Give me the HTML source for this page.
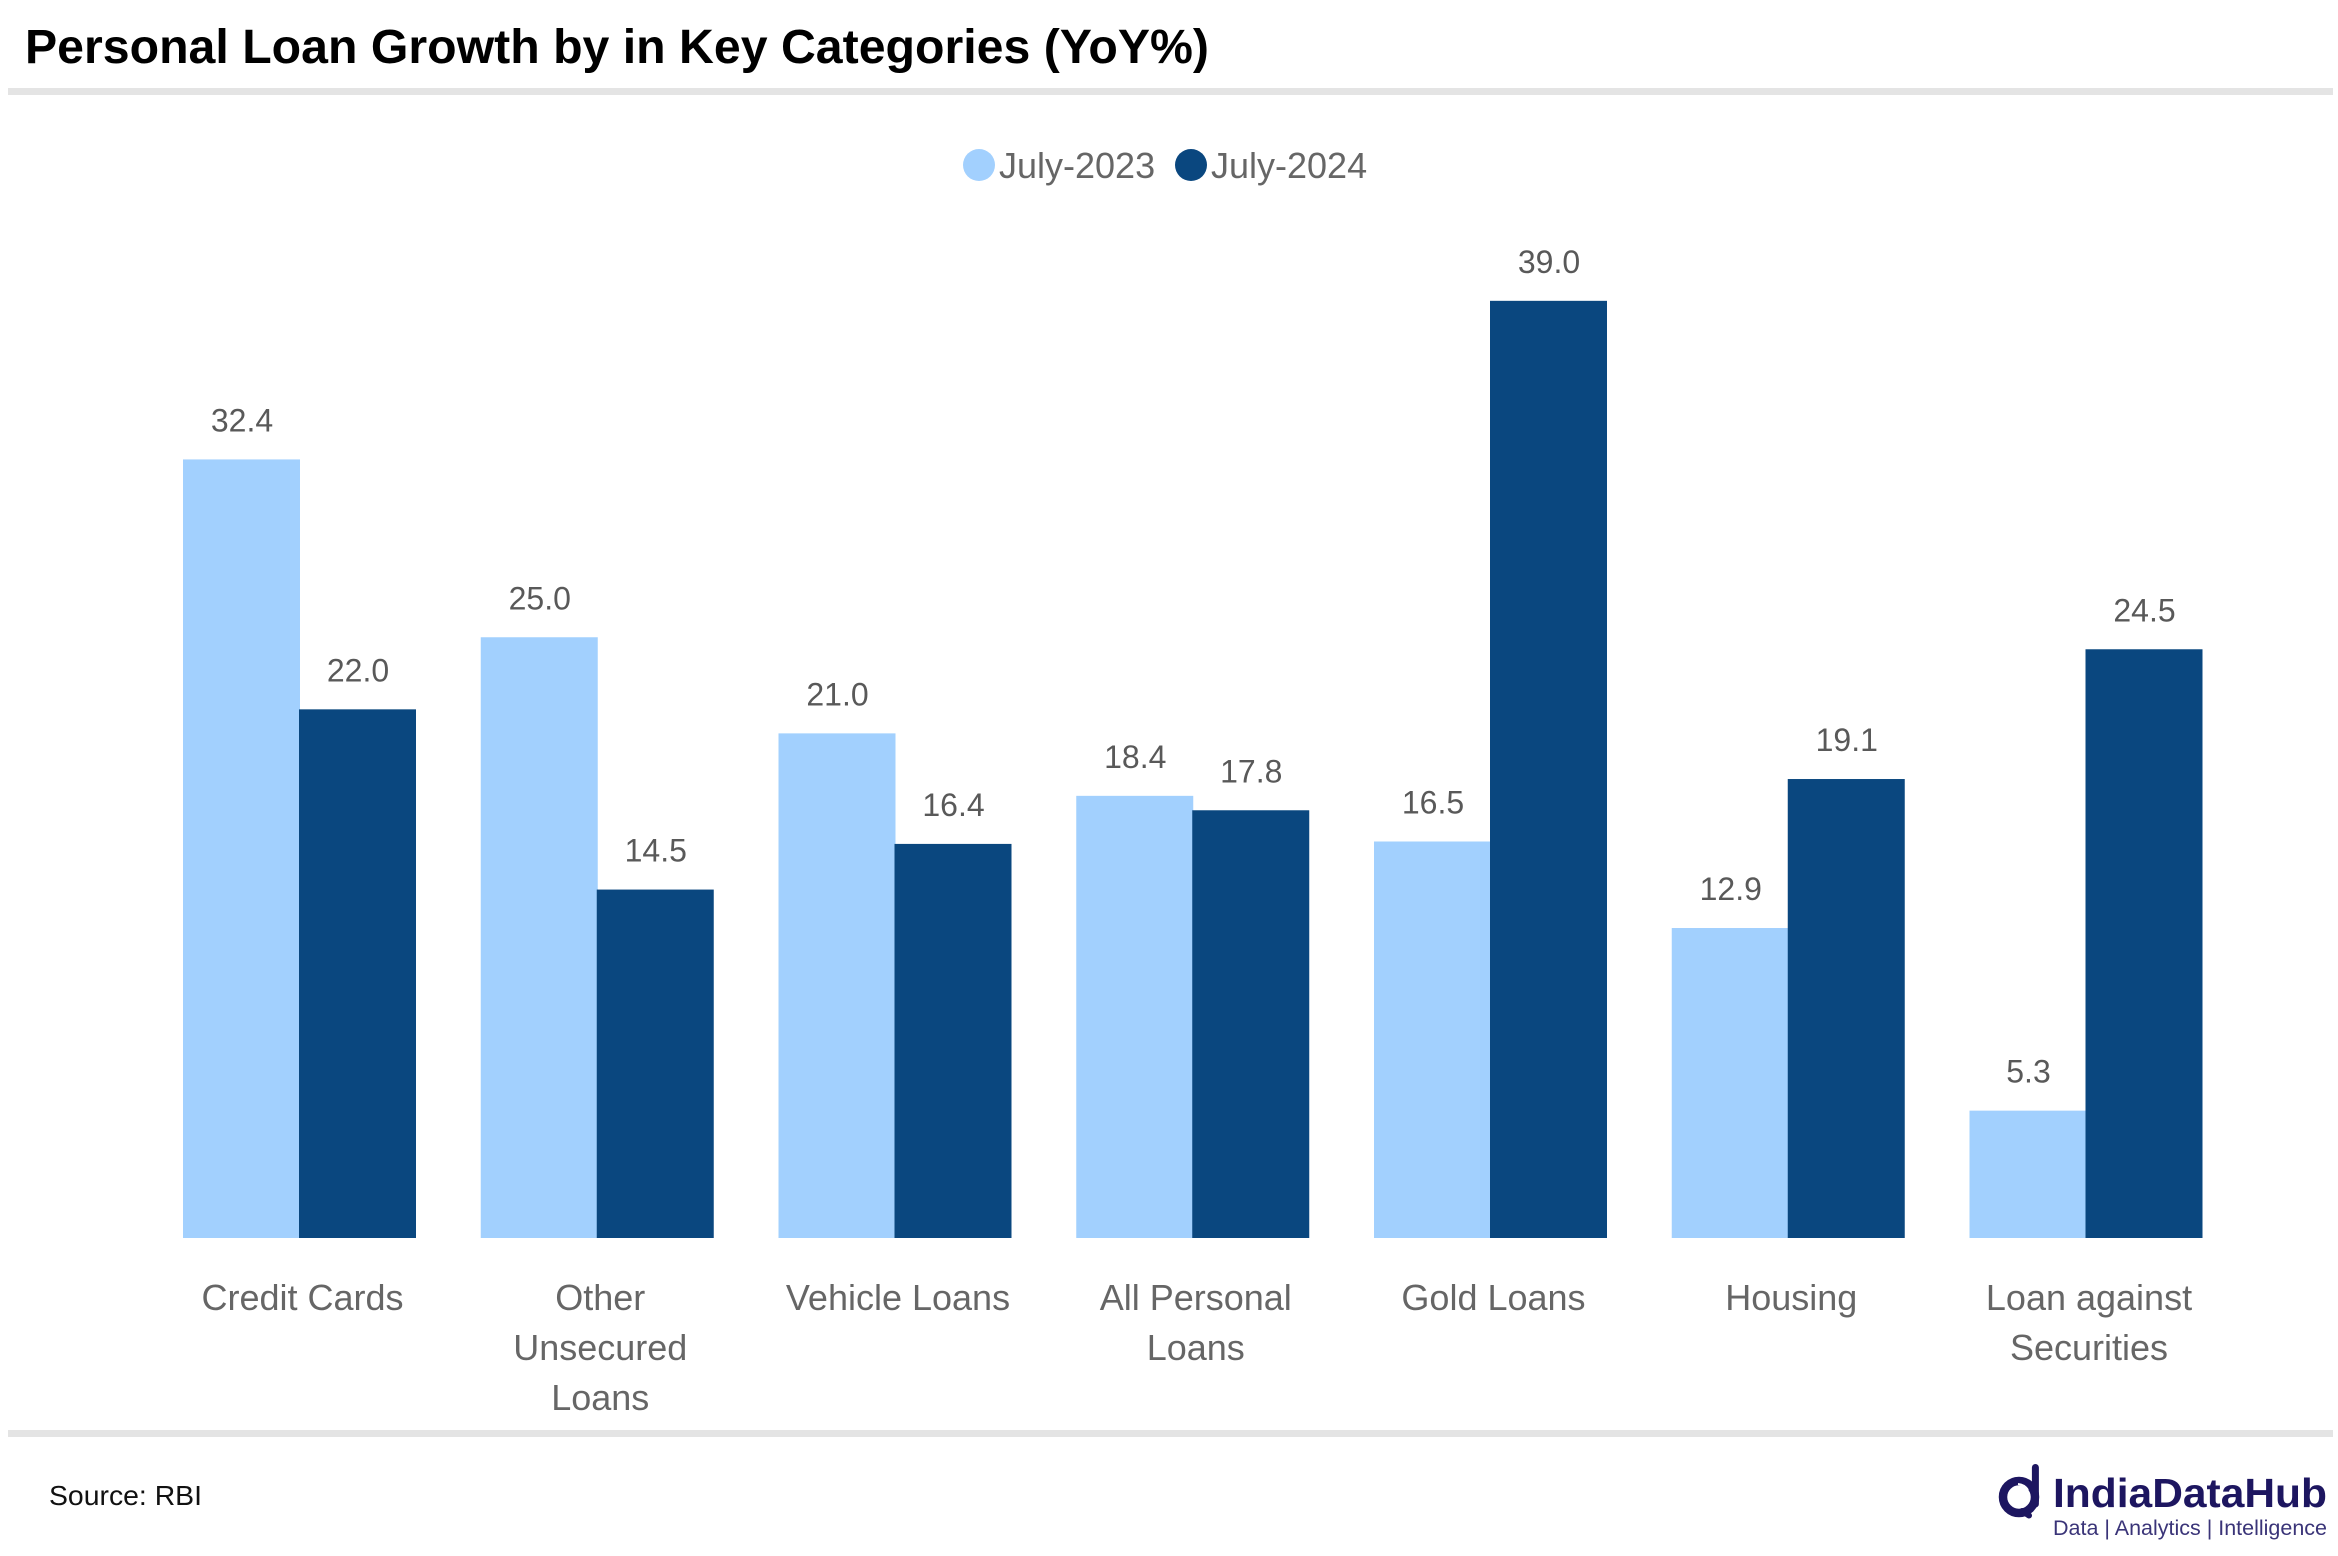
<!DOCTYPE html>
<html lang="en">
<head>
<meta charset="utf-8">
<title>Personal Loan Growth</title>
<style>
html,body{margin:0;padding:0;background:#fff;}
svg{display:block;font-family:"Liberation Sans",sans-serif;}
</style>
</head>
<body>
<svg id="chart" xmlns="http://www.w3.org/2000/svg" width="2338" height="1556" viewBox="0 0 2338 1556">
  <rect x="0" y="0" width="2338" height="1556" fill="#ffffff"/>
  <text x="25" y="63" font-size="48" font-weight="700" fill="#000000" textLength="1184" lengthAdjust="spacingAndGlyphs">Personal Loan Growth by in Key Categories (YoY%)</text>
  <rect x="8" y="88" width="2325" height="7" fill="#e4e4e4"/>
  <g>
    <circle cx="979" cy="165" r="16" fill="#a2d0fe"/>
    <text x="999" y="178" font-size="36" fill="#666666">July-2023</text>
    <circle cx="1191" cy="165" r="16" fill="#0a477f"/>
    <text x="1211" y="178" font-size="36" fill="#666666">July-2024</text>
  </g>
  <g id="plot"></g>
  <rect x="8" y="1430" width="2325" height="7" fill="#e4e4e4"/>
  <text x="49" y="1505" font-size="28" fill="#111111" textLength="153" lengthAdjust="spacingAndGlyphs">Source: RBI</text>
  <g>
    <circle cx="2019" cy="1497" r="16" fill="none" stroke="#1d1660" stroke-width="8.5"/>
    <path d="M2035.4 1467.5V1504" fill="none" stroke="#1d1660" stroke-width="7" stroke-linecap="round"/>
    <path d="M2022 1511L2029 1515.5" fill="none" stroke="#1d1660" stroke-width="6" stroke-linecap="round"/>
    <path d="M2018 1484A13 13 0 0 1 2028 1490" fill="none" stroke="#ffffff" stroke-width="2"/>
    <text x="2053" y="1507" font-size="41" font-weight="700" fill="#1d1660" textLength="274" lengthAdjust="spacingAndGlyphs">IndiaDataHub</text>
    <text x="2053" y="1535" font-size="21" fill="#3a3478" textLength="274" lengthAdjust="spacingAndGlyphs">Data | Analytics | Intelligence</text>
  </g>
</svg>
<script>
var categories = [
  ["Credit Cards"],
  ["Other", "Unsecured", "Loans"],
  ["Vehicle Loans"],
  ["All Personal", "Loans"],
  ["Gold Loans"],
  ["Housing"],
  ["Loan against", "Securities"]
];
var july2023 = [32.4, 25.0, 21.0, 18.4, 16.5, 12.9, 5.3];
var july2024 = [22.0, 14.5, 16.4, 17.8, 39.0, 19.1, 24.5];

var NS = "http://www.w3.org/2000/svg";
var plot = document.getElementById("plot");
var BASE_Y = 1238, PX_PER_UNIT = 24.03;
var FIRST_CENTER = 300, STEP = 297.75, BAR_W = 117;

function yScale(v) { return BASE_Y - v * PX_PER_UNIT; }
function xCenter(i) { return FIRST_CENTER + STEP * i; }

function drawBar(i, v, left, fill, seriesName) {
  var r = document.createElementNS(NS, "rect");
  r.setAttribute("x", left);
  r.setAttribute("y", yScale(v));
  r.setAttribute("width", BAR_W);
  r.setAttribute("height", BASE_Y - yScale(v));
  r.setAttribute("fill", fill);
  
  
  plot.appendChild(r);

  var t = document.createElementNS(NS, "text");
  t.setAttribute("x", left + BAR_W / 2 + 0.5);
  t.setAttribute("y", yScale(v) - 28);
  t.setAttribute("text-anchor", "middle");
  t.setAttribute("font-size", "32");
  t.setAttribute("fill", "#595959");
  t.textContent = v.toFixed(1);
  
  
  plot.appendChild(t);
}

categories.forEach(function (lines, i) {
  var c = xCenter(i);
  drawBar(i, july2023[i], c - BAR_W, "#a2d0fe", "july-2023");
  drawBar(i, july2024[i], c - 1, "#0a477f", "july-2024");
  lines.forEach(function (line, j) {
    var t = document.createElementNS(NS, "text");
    t.setAttribute("x", c + 2.5);
    t.setAttribute("y", 1310 + j * 50);
    t.setAttribute("text-anchor", "middle");
    t.setAttribute("font-size", "36");
    t.setAttribute("fill", "#666666");
    t.textContent = line;
    
    
    plot.appendChild(t);
  });
});
</script>
</body>
</html>
